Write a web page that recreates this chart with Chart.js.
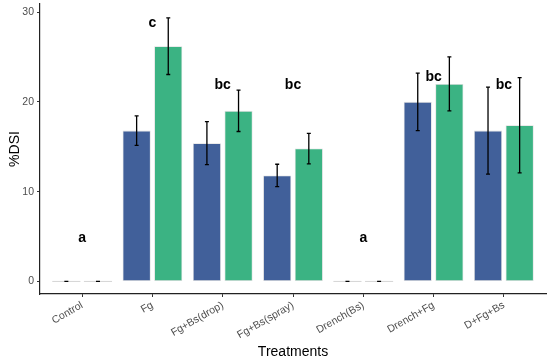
<!DOCTYPE html>
<html>
<head>
<meta charset="utf-8">
<script src="https://cdn.jsdelivr.net/npm/chart.js@4/dist/chart.umd.min.js"></script>
<style>
  html, body { margin: 0; padding: 0; background: #fff; }
  #wrap { width: 550px; height: 363px; position: relative; }
</style>
</head>
<body>
<div id="wrap"><canvas id="c" width="550" height="363"></canvas></div>
<script>
// ---- data ----
const categories = ['Control', 'Fg', 'Fg+Bs(drop)', 'Fg+Bs(spray)', 'Drench(Bs)', 'Drench+Fg', 'D+Fg+Bs'];
const seriesA = [0, 16.8, 15.4, 11.8, 0, 20.0, 16.8];
const seriesAErr = [0, 1.65, 2.4, 1.25, 0, 3.2, 4.85];
const seriesB = [0, 26.2, 19.0, 14.8, 0, 22.0, 17.4];
const seriesBErr = [0, 3.15, 2.3, 1.7, 0, 3.0, 5.3];
const letters = ['a', 'c', 'bc', 'bc', 'a', 'bc', 'bc'];
const letterY = [4.8, 28.8, 21.9, 21.9, 4.8, 22.8, 21.9];
const yTicks = [0, 10, 20, 30];

const positions = categories.map((_, i) => i + 1);
const errs = [seriesAErr, seriesBErr];

const errorBarPlugin = {
  id: 'errorBars',
  afterDatasetsDraw(chart) {
    const ctx = chart.ctx;
    const ys = chart.scales.y;
    ctx.save();
    chart.data.datasets.forEach((ds, di) => {
      const meta = chart.getDatasetMeta(di);
      meta.data.forEach((bar, i) => {
        const v = ds.data[i].y;
        const e = errs[di][i];
        const x = bar.x;
        if (v === 0) {
          ctx.strokeStyle = '#d4d4d4';
          ctx.lineWidth = 1;
          ctx.beginPath();
          ctx.moveTo(x - bar.width / 2, ys.getPixelForValue(0));
          ctx.lineTo(x + bar.width / 2, ys.getPixelForValue(0));
          ctx.stroke();
        }
        const yt = ys.getPixelForValue(v + e);
        const yb = ys.getPixelForValue(v - e);
        ctx.strokeStyle = '#000';
        ctx.lineWidth = 1.3;
        ctx.beginPath();
        ctx.moveTo(x, yt); ctx.lineTo(x, yb);
        ctx.moveTo(x - 2, yt); ctx.lineTo(x + 2, yt);
        ctx.moveTo(x - 2, yb); ctx.lineTo(x + 2, yb);
        ctx.stroke();
      });
    });
    // letters
    const xs = chart.scales.x;
    ctx.fillStyle = '#000';
    ctx.font = 'bold 14px "Liberation Sans", Arial, sans-serif';
    ctx.textAlign = 'center';
    ctx.textBaseline = 'middle';
    letters.forEach((t, i) => {
      ctx.fillText(t, xs.getPixelForValue(positions[i]), ys.getPixelForValue(letterY[i]));
    });
    ctx.restore();
  }
};

new Chart(document.getElementById('c'), {
  type: 'bar',
  data: {
    datasets: [
      {
        data: positions.map((p, i) => ({ x: p, y: seriesA[i] })),
        backgroundColor: '#41609a',
        borderColor: '#dcdcdc',
        borderWidth: 0.8,
        borderSkipped: false,
        categoryPercentage: 0.9,
        barPercentage: 0.889
      },
      {
        data: positions.map((p, i) => ({ x: p, y: seriesB[i] })),
        backgroundColor: '#3bb383',
        borderColor: '#dcdcdc',
        borderWidth: 0.8,
        borderSkipped: false,
        categoryPercentage: 0.9,
        barPercentage: 0.889
      }
    ]
  },
  options: {
    responsive: false,
    animation: false,
    layout: { padding: { top: 4, right: 4, left: 0, bottom: 0 } },
    plugins: { legend: { display: false }, tooltip: { enabled: false } },
    scales: {
      x: {
        type: 'linear',
        offset: false,
        min: 0.4,
        max: 7.6,
        afterBuildTicks(s) { s.ticks = positions.map(v => ({ value: v })); },
        afterFit(s) { s.height = 69; s.paddingLeft = 0; s.paddingRight = 0; },
        ticks: {
          autoSkip: false,
          minRotation: 30,
          maxRotation: 30,
          padding: 2,
          color: '#4d4d4d',
          font: { family: '"Liberation Sans", Arial, sans-serif', size: 10.5 },
          callback: (v) => categories[v - 1]
        },
        grid: { display: true, offset: false, drawOnChartArea: false, drawTicks: true, tickLength: 3, tickColor: '#333', tickWidth: 1 },
        border: { display: true, color: '#222', width: 1.2 },
        title: {
          display: true, text: 'Treatments', color: '#000',
          font: { family: '"Liberation Sans", Arial, sans-serif', size: 14 },
          padding: { top: 0, bottom: 2.6 }
        }
      },
      y: {
        min: -1.4,
        max: 30.9,
        afterBuildTicks(s) { s.ticks = yTicks.map(v => ({ value: v })); },
        afterFit(s) { s.width = 40; s.paddingTop = 0; s.paddingBottom = 0; },
        ticks: {
          padding: 3,
          color: '#4d4d4d',
          font: { family: '"Liberation Sans", Arial, sans-serif', size: 10.5 }
        },
        grid: { display: true, drawOnChartArea: false, drawTicks: true, tickLength: 3, tickColor: '#333', tickWidth: 1 },
        border: { display: true, color: '#222', width: 1.2 },
        title: {
          display: true, text: '%DSI', color: '#000',
          font: { family: '"Liberation Sans", Arial, sans-serif', size: 14 },
          padding: { top: 6.5, bottom: 0 }
        }
      }
    }
  },
  plugins: [errorBarPlugin]
});
</script>
</body>
</html>
